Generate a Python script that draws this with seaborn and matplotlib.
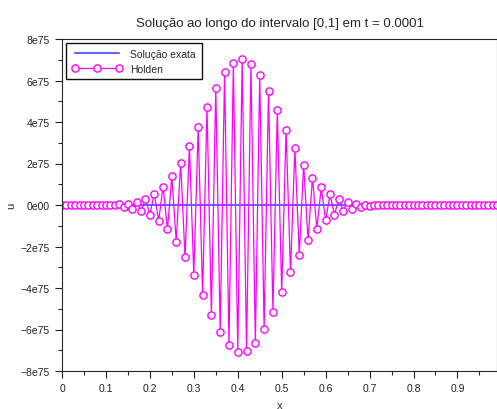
import matplotlib
matplotlib.use("Agg")
import matplotlib.pyplot as plt
import seaborn as sns
import numpy as np
import pandas as pd
from matplotlib.ticker import MultipleLocator, FuncFormatter

sns.set_style("ticks")
plt.rcParams['font.family'] = ['Liberation Sans', 'DejaVu Sans']

# grid points x = 0, 0.01, ..., 0.99
x = np.round(np.linspace(0, 0.99, 100), 2)

# Holden solution (units of 1e75)
holden = [
    0, 0, 0, 0, 0, 0, 0, 0, 0, 0,
    -0.01, 0.01, -0.02, 0.03, -0.11, 0.06, -0.18, 0.14, -0.29, 0.31,
    -0.47, 0.55, -0.76, 0.88, -1.17, 1.38, -1.77, 2.04, -2.51, 2.84,
    -3.37, 3.76, -4.34, 4.74, -5.29, 5.64, -6.12, 6.39, -6.75, 6.86,
    -7.07, 7.02, -7.04, 6.81, -6.67, 6.28, -5.99, 5.51, -5.14, 4.58,
    -4.18, 3.63, -3.24, 2.73, -2.39, 1.94, -1.69, 1.32, -1.14, 0.85,
    -0.74, 0.51, -0.47, 0.27, -0.27, 0.14, -0.18, 0.06, -0.10, 0.02,
    -0.04, 0.01, -0.01, 0, 0, 0, 0, 0, 0, 0,
    0, 0, 0, 0, 0, 0, 0, 0, 0, 0,
    0, 0, 0, 0, 0, 0, 0, 0, 0, 0,
]
exata = [0.0] * 100

df = pd.DataFrame({"x": x, "holden": np.array(holden) * 1e75, "exata": np.array(exata) * 1e75})

fig = plt.figure(figsize=(4.97, 4.10), dpi=100)
ax = fig.add_axes([62 / 497, 1 - 372 / 410, 1 - 62 / 497, (372 - 40) / 410])

sns.lineplot(data=df, x="x", y="exata", ax=ax, color="#6464ff", lw=1.5, label="Solução exata")
sns.lineplot(data=df, x="x", y="holden", ax=ax, color="#ff00ff", lw=0.9,
             marker="o", markersize=5.2, markerfacecolor="white",
             markeredgecolor="#ff00ff", markeredgewidth=1.0, label="Holden")

ax.set_xlim(0, 0.99)
ax.set_ylim(-8e75, 8e75)
ax.xaxis.set_major_locator(MultipleLocator(0.1))
ax.xaxis.set_minor_locator(MultipleLocator(0.05))
ax.yaxis.set_major_locator(MultipleLocator(2e75))
ax.yaxis.set_minor_locator(MultipleLocator(1e75))


def yfmt(v, pos):
    if abs(v) < 1e70:
        return "0e00"
    s = "%de75" % round(v / 1e75)
    return s.replace("-", "\u2212")


ax.yaxis.set_major_formatter(FuncFormatter(yfmt))
ax.xaxis.set_major_formatter(FuncFormatter(lambda v, p: "0" if v == 0 else "%g" % v))
ax.tick_params(which="major", length=5, width=0.8, labelsize=7.5, colors="#222222")
ax.tick_params(which="minor", length=3, width=0.8)
ax.tick_params(axis="x", pad=4)
ax.tick_params(axis="y", pad=4)
for s in ax.spines.values():
    s.set_linewidth(0.8)

ax.set_title("Solução ao longo do intervalo [0,1] em t = 0.0001", fontsize=9.5, pad=9)
ax.set_xlabel("x", fontsize=8)
ax.set_ylabel("u", fontsize=8)
ax.xaxis.set_label_coords(0.5, -0.087)
ax.yaxis.set_label_coords(-0.106, 0.5)

leg = ax.legend(loc="upper left", fontsize=7.5, frameon=True, fancybox=False,
                shadow=False, numpoints=3, handlelength=4.8, framealpha=1,
                borderaxespad=0.4, borderpad=0.55, labelspacing=0.45)
leg.get_frame().set_edgecolor("#111111")
leg.get_frame().set_linewidth(1.0)

fig.savefig("out.png", dpi=100)
